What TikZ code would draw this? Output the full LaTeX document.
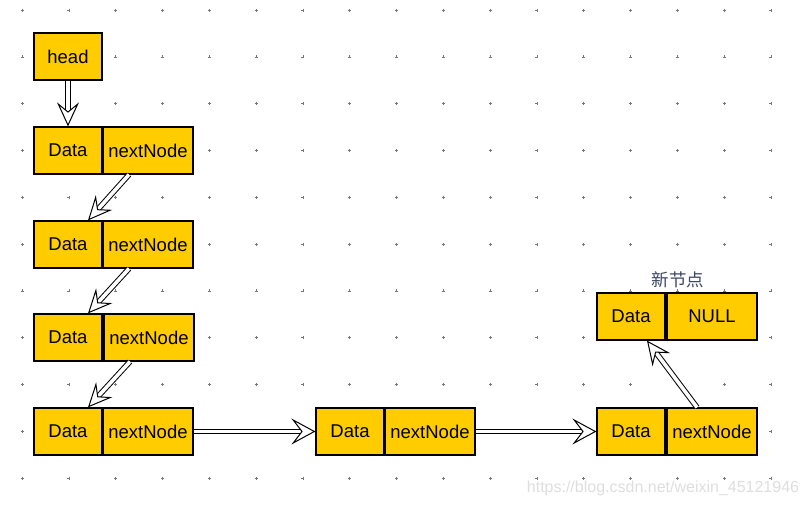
\documentclass[tikz,border=0pt]{standalone}
\usepackage{fontspec}
\setmainfont{Liberation Sans}
\newfontfamily\cjk{Noto Sans CJK SC}
\usetikzlibrary{arrows.meta}
\definecolor{boxFill}{RGB}{255,204,0}
\definecolor{dotGray}{RGB}{120,120,120}
\definecolor{labelInk}{RGB}{60,70,100}
\definecolor{markGray}{RGB}{222,222,222}
\tikzstyle{dataBox}=[shape = rectangle, draw, line width = 1.2pt, fill = boxFill, minimum width = 68pt, minimum height = 47pt, inner sep = 0pt, text depth = 0pt, font = \fontsize{18.5}{22}\selectfont]
\tikzstyle{nextBox}=[dataBox, minimum width = 90pt]
\newcommand{\linkArrow}[3][ptrTip]{\draw[ptrBody] #2 -- #3; \draw[#1] #2 -- #3;}

\begin{document}
\begin{tikzpicture}[x = 1pt, y = -1pt]
\tikzstyle{ptrBody}=[draw = black, line width = 1pt, double = white, double distance = 3.6pt, shorten > = 11pt]
\tikzstyle{ptrTip}=[draw = white, line width = 0.6pt, -{Stealth[length = 24pt, width = 22pt, inset = 9pt, color = black, fill = white, line width = 1pt]}]
\tikzstyle{ptrTipWide}=[draw = white, line width = 0.6pt, -{Stealth[length = 24pt, width = 26pt, inset = 10pt, color = black, fill = white, line width = 1pt]}]
\useasboundingbox (0,0) rectangle (808,506);
% dotted grid
\foreach \i in {0,...,16}
  \foreach \j in {0,...,10}
    \draw[dotGray, line width = 0.5pt] (22+46.8*\i-1.5, 10+46.8*\j) -- ++(3,0) (22+46.8*\i, 10+46.8*\j-1.5) -- ++(0,3);
% list nodes
\node[dataBox] (head) at (68, 56.5) {head};
\node[dataBox] (d1) at (68, 150.5) {Data};
\node[nextBox] (n1) at (148, 150.5) {nextNode};
\node[dataBox] (d2) at (68, 244.5) {Data};
\node[nextBox] (n2) at (148, 244.5) {nextNode};
\node[dataBox] (d3) at (68, 337.5) {Data};
\node[nextBox] (n3) at (149, 337.5) {nextNode};
\node[dataBox] (d4) at (68, 431.5) {Data};
\node[nextBox] (n4) at (148, 431.5) {nextNode};
\node[dataBox] (d5) at (350, 431.5) {Data};
\node[nextBox] (n5) at (430, 431.5) {nextNode};
\node[dataBox] (d6) at (631, 431.5) {Data};
\node[nextBox] (n6) at (712, 431.5) {nextNode};
% new node
\node[dataBox] (d7) at (631, 316.5) {Data};
\node[nextBox] (nul) at (712, 316.5) {NULL};
\node[font = \cjk\fontsize{17.5}{19}\selectfont, text = labelInk] (newLabel) at (678, 280) {新节点};
% pointers
\linkArrow{(head.south)}{(d1.north)}
\linkArrow{([xshift = -19pt]n1.south)}{([xshift = 20pt]d2.north)}
\linkArrow{([xshift = -19pt]n2.south)}{([xshift = 20pt]d3.north)}
\linkArrow{([xshift = -19pt]n3.south)}{([xshift = 20pt]d4.north)}
\linkArrow[ptrTipWide]{(n4.east)}{(d5.west)}
\linkArrow[ptrTipWide]{(n5.east)}{(d6.west)}
\linkArrow{([xshift = -15pt]n6.north)}{([xshift = 16pt]d7.south)}
\node[font = \fontsize{16}{18}\selectfont, text = markGray] (mark) at (663, 488) {https://blog.csdn.net/weixin\_45121946};
\end{tikzpicture}
\end{document}
